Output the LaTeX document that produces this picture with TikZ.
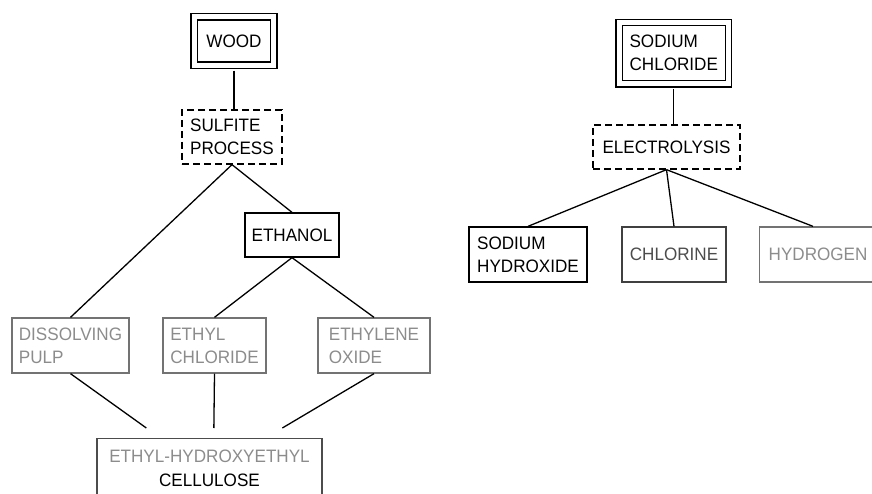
\documentclass[tikz,border=0pt]{standalone}
\usepackage{fontspec}
\setmainfont{Liberation Sans}[FakeStretch=0.95]
\usetikzlibrary{calc}
\begin{document}
\begin{tikzpicture}[x=1pt,y=-1pt,
  every node/.style={font=\fontsize{18}{23}\selectfont},
  box/.style={draw, line width=1.3pt, align=left, inner sep=0pt},
  dbox/.style={box, double, double distance=5pt},
  dashbox/.style={box, dash pattern=on 7pt off 4pt},
  faint/.style={draw=black!55, text=black!45},
  conn/.style={line width=1.3pt},
  sz/.style 2 args={minimum width=#1, minimum height=#2}]
\useasboundingbox (0,0) rectangle (872,494);
\clip (0,0) rectangle (872,494);

% ---- left tree ----
\node[dbox, sz={79.5pt}{48.5pt}] (wood) at (234,41) {WOOD};
\node[dashbox, sz={100pt}{54pt}] (sulf) at (232,137) {SULFITE\\PROCESS};
\node[box, sz={94pt}{44pt}] (eth) at (292,235) {ETHANOL};
\node[box, faint, sz={117pt}{55pt}] (pulp) at (70.5,345.5) {DISSOLVING\\PULP};
\node[box, faint, sz={103pt}{55pt}] (chl) at (214.5,345.5) {ETHYL\\CHLORIDE};
\node[box, faint, sz={112pt}{55pt}] (oxi) at (374,345.5) {ETHYLENE\\OXIDE};
\node[box, draw=black!70, sz={225pt}{100pt}, anchor=north] (cell) at (209.5,438) {};
\node[align=center] (celltext) at (209.5,468) {\textcolor{black!45}{ETHYL-HYDROXYETHYL}\\[1pt]CELLULOSE};

\draw[conn, shorten <=4.8pt] (wood.south) -- (wood.south |- sulf.north);
\draw[conn] (sulf.south) -- (pulp.north);
\draw[conn] (sulf.south) -- (eth.north);
\draw[conn] (eth.south) -- (chl.north);
\draw[conn] (eth.south) -- (oxi.north);
\coordinate (c1) at ($(cell.north west)+(50,-10)$);
\coordinate (c2) at ($(cell.north west)+(117.5,-10)$);
\coordinate (c3) at ($(cell.north west)+(186,-10)$);
\draw[conn] (pulp.south) -- (c1);
\draw[conn] (chl.south) -- (c2);
\draw[conn] (oxi.south) -- (c3);

% ---- right tree ----
\node[dbox, sz={109.5pt}{61.5pt}] (nacl) at (673.75,53.25) {SODIUM\\CHLORIDE};
\node[dashbox, sz={147pt}{44pt}] (elec) at (666.5,147) {ELECTROLYSIS};
\node[box, sz={118pt}{55pt}] (naoh) at (528,254.5) {SODIUM\\HYDROXIDE};
\node[box, draw=black!75, text=black!70, sz={104pt}{55pt}] (chlo) at (674,254.5) {CHLORINE};
\node[box, faint, sz={130pt}{55pt}, text width=112pt, inner xsep=9pt, anchor=west] (hyd) at (759,254.5) {HYDROGEN};

\draw[conn, shorten <=4.8pt] (nacl.south) -- (nacl.south |- elec.north);
\draw[conn] (elec.south) -- (naoh.north);
\draw[conn] (elec.south) -- (chlo.north);
\coordinate (h1) at ($(hyd.north west)+(54,0)$);
\draw[conn] (elec.south) -- (h1);
\end{tikzpicture}
\end{document}
